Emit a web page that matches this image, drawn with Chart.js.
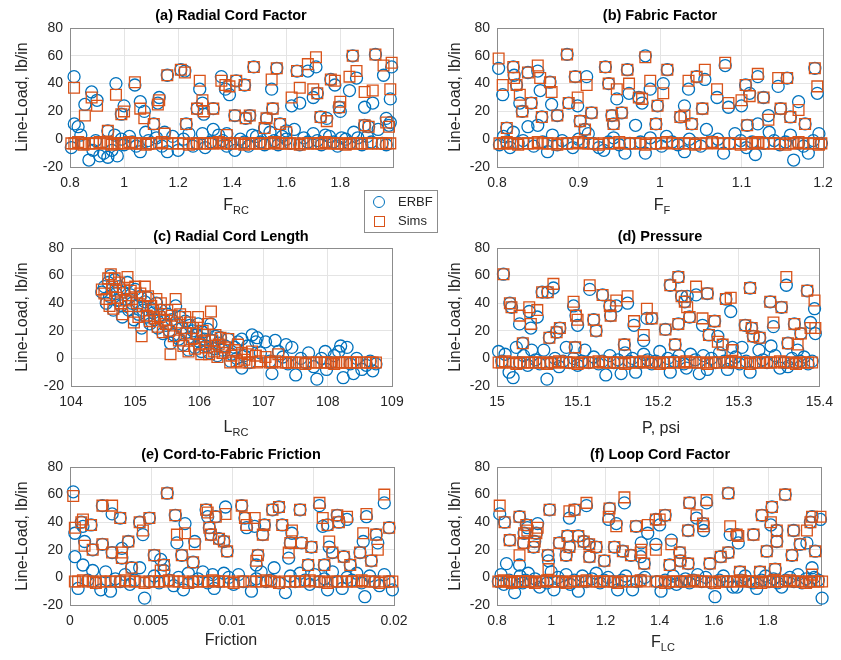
<!DOCTYPE html>
<html><head><meta charset="utf-8">
<script src="https://cdn.jsdelivr.net/npm/chart.js@4"></script>
<style>
body{margin:0;background:#fff;width:841px;height:660px;position:relative;overflow:hidden;font-family:"Liberation Sans",Arial,Helvetica,sans-serif;color:#262626}
canvas{position:absolute}
.t{position:absolute;font-weight:bold;font-size:14.5px;line-height:1;white-space:nowrap;transform:translateX(-50%);color:#000;z-index:2}
.xl{position:absolute;font-size:16px;line-height:1;white-space:nowrap;transform:translateX(-50%);z-index:2}
.xl sub{font-size:11px;vertical-align:-4px;line-height:1}
.yl{position:absolute;font-size:16px;line-height:1;white-space:nowrap;transform:translate(-50%,-50%) rotate(-90deg);z-index:2}
#leg{position:absolute;left:364px;top:190px;width:72px;height:41px;border:1px solid #8c8c8c;background:#fff;z-index:3;font-size:13px}
#leg .row{position:absolute;left:0;height:16px;line-height:16px}
#leg .c{position:absolute;left:8px;top:2px;width:10px;height:10px;border:1.4px solid #0072BD;border-radius:50%}
#leg .s{position:absolute;left:9px;top:3px;width:9px;height:9px;border:1.4px solid #D95319}
#leg .lab{position:absolute;left:33px;top:0}
</style>
</head><body>
<canvas id="ca" width="420" height="215" style="left:0;top:0"></canvas>
<canvas id="cb" width="416" height="215" style="left:425px;top:0"></canvas>
<canvas id="cc" width="420" height="225" style="left:0;top:215px"></canvas>
<canvas id="cd" width="416" height="225" style="left:425px;top:215px"></canvas>
<canvas id="ce" width="420" height="220" style="left:0;top:440px"></canvas>
<canvas id="cf" width="416" height="220" style="left:425px;top:440px"></canvas>

<div class="t" style="left:231px;top:8px">(a) Radial Cord Factor</div>
<div class="t" style="left:660px;top:8px">(b) Fabric Factor</div>
<div class="t" style="left:231px;top:229px">(c) Radial Cord Length</div>
<div class="t" style="left:660px;top:229px">(d) Pressure</div>
<div class="t" style="left:231px;top:447px">(e) Cord-to-Fabric Friction</div>
<div class="t" style="left:660px;top:447px">(f) Loop Cord Factor</div>

<div class="xl" style="left:236px;top:197px">F<sub>RC</sub></div>
<div class="xl" style="left:662px;top:197px">F<sub>F</sub></div>
<div class="xl" style="left:236px;top:419px">L<sub>RC</sub></div>
<div class="xl" style="left:661px;top:420px">P, psi</div>
<div class="xl" style="left:231px;top:632px">Friction</div>
<div class="xl" style="left:663px;top:634px">F<sub>LC</sub></div>

<div class="yl" style="left:22px;top:97px">Line-Load, lb/in</div>
<div class="yl" style="left:455px;top:97px">Line-Load, lb/in</div>
<div class="yl" style="left:22px;top:317px">Line-Load, lb/in</div>
<div class="yl" style="left:455px;top:317px">Line-Load, lb/in</div>
<div class="yl" style="left:22px;top:536px">Line-Load, lb/in</div>
<div class="yl" style="left:455px;top:536px">Line-Load, lb/in</div>

<div id="leg">
  <div class="row" style="top:3px;width:72px"><span class="c"></span><span class="lab">ERBF</span></div>
  <div class="row" style="top:22px;width:72px"><span class="s"></span><span class="lab">Sims</span></div>
</div>

<script>
// ---------- tick labels ----------
const yTicks = [-20, 0, 20, 40, 60, 80];
const xTicksA = [0.8, 1, 1.2, 1.4, 1.6, 1.8];
const xTicksB = [0.8, 0.9, 1, 1.1, 1.2];
const xTicksC = [104, 105, 106, 107, 108, 109];
const xTicksD = [15, 15.1, 15.2, 15.3, 15.4];
const xTicksE = [0, 0.005, 0.01, 0.015, 0.02];
const xTicksF = [0.8, 1, 1.2, 1.4, 1.6, 1.8];

// ---------- (a) Radial Cord Factor ----------
const aX = [0.815,0.880,0.900,0.855,0.970,0.990,1.000,1.040,1.060,1.075,
1.110,1.130,1.125,1.160,1.210,1.225,1.230,1.280,1.290,1.270,
1.295,1.330,1.360,1.375,1.390,1.410,1.415,1.446,1.450,1.465,
1.480,1.546,1.565,1.550,1.527,1.577,1.620,1.650,1.640,1.680,
1.710,1.700,1.715,1.727,1.750,1.765,1.780,1.796,1.800,1.834,
1.860,1.846,1.930,1.960,1.990,1.890,1.920,1.985,1.890,1.905,
1.970,1.980,0.940,1.150,1.380,1.600,1.520,
0.805,0.816,0.830,0.840,0.850,0.870,0.885,0.895,0.910,0.925,
0.940,0.955,0.965,0.975,0.990,1.000,1.020,1.030,1.045,1.060,
1.080,1.090,1.100,1.120,1.140,1.160,1.180,1.200,1.220,1.240,
1.255,1.270,1.290,1.300,1.320,1.330,1.350,1.365,1.380,1.395,
1.410,1.430,1.445,1.460,1.475,1.490,1.505,1.520,1.540,1.555,
1.570,1.585,1.600,1.615,1.630,1.650,1.665,1.680,1.700,1.715,
1.730,1.745,1.760,1.775,1.790,1.805,1.820,1.835,1.850,1.865,
1.880,1.900,1.915,1.940,1.955,1.970,1.985];
const aErbf = [45,34,28,25,40,18,24,39,27,20,
11,30,26,46,50,49,11,36,26,22,
18,22,45,36,32,17,42,39,15,17,
52,36,51,22,15,11,24,26,49,49,
52,30,33,16,15,43,39,23,20,35,
44,60,61,46,52,23,26,29,10,9,
15,10,6,5,4,6,8,
-6,11,9,3,-3,-15,-8,-1,-12,-10,
-13,-8,3,-12,0,-4,2,-2,-5,-9,
5,-1,-3,1,-5,-9,2,-8,0,4,
-5,-3,4,-6,-2,7,3,-1,-5,-3,
-8,0,-2,-5,3,2,-2,-4,5,-1,
-4,2,0,-3,7,-4,1,-2,4,-1,
-4,3,2,-2,-5,1,0,-3,5,1,
-4,2,-2,7,-3,-4,12];
const aSims = [37,30,24,17,32,18,20,41,22,15,
11,28,25,46,50,48,11,42,28,22,
20,22,42,39,38,17,42,39,15,17,
52,43,51,22,15,11,30,37,49,54,
59,36,33,16,13,43,42,23,27,45,
49,60,61,53,55,34,35,36,10,9,
12,9,6,4,3,5,8,
-3,-3,-2,-3,-4,-3,-3,-3,-2,-3,
-3,-4,-3,-3,-3,-3,-2,-3,-3,-3,
-4,-3,-3,-3,-2,-3,-3,-3,-3,-4,
-3,-3,-3,-3,-3,-3,-2,-3,-3,-3,
-3,-3,-4,-3,-3,-3,-3,-3,-3,-2,
-3,-3,-3,-3,-3,-4,-3,-3,-3,-3,
-3,-2,-3,-3,-3,-3,-4,-3,-3,-3,
-3,-3,-3,-3,-3,-3,-3];

// ---------- (b) Fabric Factor ----------
const bX = [0.802,0.807,0.812,0.820,0.821,0.824,0.828,0.838,0.850,0.853,
0.842,0.831,0.855,0.865,0.867,0.874,0.886,0.888,0.899,0.896,
0.910,0.902,0.908,0.916,0.933,0.937,0.947,0.960,0.962,0.941,
0.943,0.953,0.974,0.978,0.988,0.982,0.997,0.995,1.009,1.004,
1.035,1.045,1.055,1.030,1.039,1.025,1.052,1.070,1.080,1.084,
1.100,1.105,1.110,1.120,1.127,1.145,1.156,1.148,1.170,1.160,
1.133,1.107,1.190,1.193,1.178,
0.803,0.808,0.812,0.816,0.820,0.826,0.832,0.838,0.845,0.850,
0.856,0.862,0.868,0.874,0.880,0.886,0.893,0.900,0.906,0.912,
0.918,0.925,0.931,0.937,0.943,0.950,0.957,0.963,0.970,0.976,
0.982,0.988,0.995,1.002,1.008,1.015,1.022,1.030,1.036,1.043,
1.050,1.057,1.064,1.071,1.078,1.085,1.092,1.099,1.106,1.113,
1.117,1.120,1.127,1.134,1.140,1.147,1.154,1.160,1.164,1.170,
1.176,1.182,1.188,1.195,1.198];
const bErbf = [51,32,8,52,46,39,26,48,49,35,
26,20,16,41,25,17,61,26,24,45,
45,13,7,19,52,40,29,50,33,17,
11,19,30,26,36,60,24,11,50,40,
36,45,43,24,11,16,22,30,53,23,
24,39,33,45,30,38,44,22,27,16,
17,10,51,33,11,
-4,2,-2,-6,5,-3,-1,9,-5,10,
-2,-9,3,-4,-1,-3,-6,0,-2,4,
-3,-6,-8,-2,1,-4,-10,-3,10,-2,
-10,1,-3,-5,2,-2,-4,-9,0,-3,
-5,7,-2,0,-10,-3,4,-1,-6,-2,
-11,11,-3,5,-1,-4,-2,3,-15,-3,
-5,-10,-1,4,-3];
const bSims = [58,39,8,52,44,39,32,48,53,44,
26,20,16,41,34,17,61,26,30,45,
39,13,7,19,52,40,36,50,40,17,
11,19,30,29,42,59,24,11,50,33,
42,45,50,17,11,16,22,36,55,26,
28,39,31,47,30,44,44,22,21,16,
14,10,51,38,11,
-3,-3,-2,-3,-3,-4,-3,-3,-3,-2,
-3,-3,-3,-4,-3,-3,-3,-2,-3,-3,
-3,-4,-3,-3,-3,-2,-3,-3,-3,-3,
-4,-3,-3,-3,-2,-3,-3,-3,-3,-4,
-3,-3,-2,-3,-3,-3,-3,-4,-3,-3,
-3,-2,-3,-3,-3,-3,-4,-3,-3,-2,
-3,-3,-3,-4,-3];

// ---------- (c) Radial Cord Length ----------
const cX = [104.48,104.52,104.55,104.58,104.60,104.62,104.64,104.66,104.68,104.70,
104.72,104.75,104.78,104.80,104.82,104.85,104.88,104.90,104.93,104.95,
104.98,105.00,105.03,105.05,105.08,105.10,105.12,105.15,105.18,105.20,
105.23,105.25,105.28,105.30,105.33,105.35,105.38,105.40,105.43,105.45,
105.48,105.50,105.53,105.55,105.57,105.60,105.63,105.65,105.68,105.70,
105.73,105.75,105.78,105.80,105.83,105.85,105.88,105.90,105.93,105.95,
105.98,106.00,106.03,106.05,106.08,106.10,106.13,106.15,106.18,106.20,
106.23,106.25,106.28,106.30,106.33,106.36,106.40,106.45,106.50,106.55,
106.60,106.66,106.70,106.75,106.82,106.88,106.95,107.03,107.10,107.18,
107.23,107.30,107.38,107.44,107.50,107.58,107.65,107.70,107.78,107.83,
107.90,107.96,107.98,108.05,108.10,108.17,108.24,108.30,108.35,108.40,
108.45,108.53,108.60,108.66,108.70,108.75,106.66,106.90,107.13,106.48,
106.58,106.78,107.35,108.20];
const cErbf = [48,52,40,55,45,60,50,35,57,47,
42,52,38,30,48,43,55,35,46,40,
28,50,38,32,45,22,35,41,30,44,
25,36,33,28,40,22,31,35,18,27,
24,32,20,11,28,17,38,25,14,30,
22,10,27,19,6,24,15,20,8,17,
25,12,5,19,14,9,21,4,25,13,
7,16,2,11,15,6,9,14,3,8,
12,14,2,9,17,12,4,12,-2,13,
5,1,-4,8,-12,0,-3,4,-6,-15,
0,5,-8,-3,2,5,-14,8,-4,-11,
0,-8,-5,-2,-9,-4,-7,15,-11,-2,
0,-3,10,9];
const cSims = [50,47,43,58,38,61,52,36,58,49,
44,55,40,32,50,42,59,38,49,43,
26,52,40,30,47,16,38,52,31,45,
27,38,35,29,43,23,30,40,19,28,
25,35,20,3,31,16,43,26,13,32,
22,9,30,18,5,26,14,22,7,18,
30,10,3,20,13,8,25,3,34,13,
5,17,1,10,15,4,8,14,2,6,
10,4,-1,3,5,2,-2,1,-3,-2,
3,-3,-3,-3,-3,-3,-4,-3,-3,-3,
-3,-3,-3,-3,-4,-3,-3,-3,-3,-3,
-3,-3,-3,-3,-3,-3,-3,-3,-3,-3,
-2,-3,-3,-3];

// ---------- (d) Pressure ----------
const dX = [15.008,15.016,15.018,15.028,15.040,15.050,15.042,15.056,15.063,15.070,
15.065,15.074,15.078,15.032,15.095,15.098,15.100,15.097,15.115,15.120,
15.123,15.131,15.140,15.148,15.141,15.162,15.170,15.186,15.192,15.182,
15.158,15.215,15.225,15.229,15.233,15.236,15.239,15.225,15.247,15.261,
15.255,15.270,15.263,15.274,15.284,15.290,15.280,15.292,15.209,15.221,
15.308,15.316,15.318,15.326,15.314,15.339,15.353,15.343,15.359,15.369,
15.377,15.373,15.385,15.394,15.389,15.395,15.361,
15.002,15.006,15.010,15.015,15.020,15.024,15.028,15.033,15.038,15.043,
15.048,15.053,15.058,15.062,15.067,15.072,15.077,15.082,15.086,15.090,
15.095,15.100,15.105,15.109,15.114,15.120,15.126,15.131,15.135,15.140,
15.145,15.150,15.154,15.159,15.164,15.168,15.172,15.177,15.182,15.187,
15.192,15.197,15.202,15.207,15.212,15.215,15.220,15.226,15.232,15.235,
15.240,15.246,15.251,15.256,15.261,15.266,15.271,15.276,15.282,15.286,
15.291,15.296,15.301,15.304,15.309,15.314,15.320,15.325,15.330,15.335,
15.340,15.345,15.351,15.356,15.361,15.366,15.371,15.376,15.381,15.386,
15.391];
const dErbf = [61,40,37,25,34,30,22,48,48,51,
15,19,22,11,38,31,24,8,50,28,
20,46,38,38,31,40,24,29,29,13,
10,53,59,45,41,45,30,25,46,47,
24,27,17,16,43,34,10,8,21,10,
24,22,16,15,51,41,37,23,53,25,
18,6,49,36,26,18,11,
5,-2,3,-10,-14,8,-3,2,-5,6,
-1,-4,6,-15,-3,0,-6,-2,8,-3,
0,-5,-2,6,-3,1,-4,-2,-12,2,
-3,-1,-11,4,-2,0,-10,-3,3,-1,
-4,-2,5,-3,0,-10,-2,2,-4,-7,
3,-1,-11,2,-8,0,-3,4,-2,-8,
-3,1,-4,8,-2,-10,-3,6,-1,-3,
9,2,-7,-3,-6,0,-3,-2,1,-4,
-2];
const dSims = [61,40,37,31,37,35,25,48,48,54,
15,19,22,11,41,31,28,8,53,28,
20,46,38,42,31,45,27,36,29,17,
10,53,59,45,41,37,30,25,52,47,
29,27,17,12,43,44,10,6,21,10,
24,22,16,15,51,41,37,26,59,25,
18,10,49,42,22,22,11,
-3,-3,-2,-3,-3,-4,-3,-3,-3,-3,
-3,-3,-3,-4,-3,-3,-2,-3,-3,-3,
-3,-4,-3,-3,-3,-3,-2,-3,-3,-3,
-3,-3,-3,-4,-3,-3,-3,-3,-2,-3,
-3,-3,-4,-3,-3,-3,-3,-3,-3,-2,
-3,-3,-3,-3,-4,-3,-3,-3,-3,-3,
-2,-3,-3,-3,-3,-4,-3,-3,-3,-3,
-3,-3,-2,-3,-3,-3,-4,-3,-3,-3,
-3];

// ---------- (e) Cord-to-Fabric Friction ----------
const eX = [0.0002,0.0003,0.0007,0.0008,0.0013,0.0020,0.0026,0.0031,0.0009,0.0014,
0.0020,0.0026,0.0032,0.0036,0.0043,0.0049,0.0045,0.0032,0.0038,0.0060,
0.0065,0.0066,0.0071,0.0069,0.0052,0.0056,0.0058,0.0076,0.0077,0.0084,
0.0085,0.0090,0.0086,0.0087,0.0092,0.0095,0.0097,0.0096,0.0106,0.0108,
0.0114,0.0109,0.0120,0.0119,0.0125,0.0129,0.0131,0.0137,0.0142,0.0136,
0.0143,0.0149,0.0135,0.0116,0.0115,0.0154,0.0156,0.0159,0.0165,0.0166,
0.0171,0.0160,0.0162,0.0169,0.0183,0.0181,0.0179,0.0189,0.0190,0.0197,
0.0194,0.0147,0.0157,0.0173,0.0186,
0.0003,0.0005,0.0008,0.0011,0.0014,0.0016,0.0019,0.0022,0.0025,0.0028,
0.0031,0.0034,0.0037,0.0040,0.0043,0.0046,0.0049,0.0052,0.0055,0.0058,
0.0061,0.0064,0.0067,0.0070,0.0073,0.0076,0.0079,0.0082,0.0085,0.0088,
0.0089,0.0092,0.0095,0.0098,0.0101,0.0104,0.0107,0.0112,0.0115,0.0118,
0.0121,0.0124,0.0126,0.0129,0.0133,0.0136,0.0139,0.0142,0.0145,0.0148,
0.0151,0.0154,0.0157,0.0159,0.0162,0.0165,0.0168,0.0171,0.0174,0.0177,
0.0180,0.0182,0.0185,0.0188,0.0191,0.0194,0.0197,0.0199];
const eErbf = [62,32,40,37,38,52,46,43,26,20,
24,18,21,26,40,43,31,14,7,61,
45,25,39,16,16,13,9,11,26,49,
44,44,36,31,28,26,19,51,52,43,
37,36,38,31,49,51,38,32,49,25,
25,22,14,16,9,52,37,38,45,40,
42,22,18,15,44,26,18,31,25,36,
54,9,9,9,12,
15,-8,9,-2,5,-4,-9,4,-10,-1,
-3,2,-5,-2,7,-15,-3,1,-4,5,
-2,-6,0,-9,3,-3,-1,4,-4,2,
-8,-3,3,0,-5,2,-3,-10,-1,4,
-3,-2,7,-4,-11,1,-3,3,-2,-5,
2,-3,-1,-9,4,-3,-8,0,-2,3,
-4,-14,1,-3,-6,2,-3,-9];
const eSims = [59,36,40,42,38,52,52,43,23,20,
24,18,18,26,40,43,34,14,7,61,
45,31,32,16,16,5,9,11,24,49,
47,44,36,31,28,26,19,46,52,43,
43,38,38,31,49,51,38,34,49,25,
25,22,18,16,12,54,43,38,45,40,
44,26,18,15,46,32,18,31,20,36,
60,9,9,9,12,
-3,-3,-2,-3,-3,-4,-3,-3,-3,-3,
-3,-2,-3,-3,-3,-4,-3,-3,-3,-3,
-2,-3,-3,-3,-4,-3,-3,-3,-3,-2,
-3,-3,-3,-3,-4,-3,-3,-3,-3,-3,
-2,-3,-3,-4,-3,-3,-3,-3,-3,-2,
-3,-3,-3,-4,-3,-3,-3,-3,-3,-3,
-2,-3,-3,-3,-4,-3,-3,-3];

// ---------- (f) Loop Cord Factor ----------
const fX = [0.810,0.828,0.847,0.883,0.908,0.900,0.912,0.898,0.945,0.950,
0.883,0.939,0.935,0.994,0.988,0.990,1.030,1.060,1.067,1.067,
1.086,1.130,1.100,1.120,1.140,1.166,1.141,1.055,1.196,1.215,
1.212,1.240,1.270,1.233,1.264,1.294,1.330,1.313,1.356,1.332,
1.386,1.343,1.386,1.420,1.400,1.510,1.573,1.536,1.560,1.562,
1.505,1.443,1.474,1.476,1.505,1.437,1.653,1.660,1.684,1.690,
1.653,1.625,1.746,1.585,1.777,1.814,1.810,1.832,1.795,1.832,
1.863,1.894,1.888,1.918,1.943,1.956,1.962,1.993,1.974,1.962,
1.826,1.770,1.696,
0.805,0.815,0.825,0.835,0.845,0.855,0.865,0.875,0.885,0.895,
0.905,0.915,0.925,0.940,0.957,0.970,0.985,1.000,1.010,1.025,
1.040,1.055,1.070,1.085,1.100,1.115,1.130,1.150,1.166,1.180,
1.195,1.210,1.230,1.245,1.260,1.275,1.300,1.315,1.330,1.345,
1.390,1.405,1.420,1.435,1.450,1.462,1.480,1.495,1.510,1.525,
1.540,1.555,1.570,1.590,1.604,1.620,1.635,1.650,1.670,1.685,
1.700,1.715,1.730,1.745,1.758,1.775,1.790,1.805,1.820,1.835,
1.850,1.865,1.880,1.895,1.910,1.925,1.940,1.955,1.970,1.985,
1.999];
const fErbf = [46,40,27,44,38,32,36,25,32,39,
9,26,22,49,16,12,25,30,22,43,
49,52,30,26,24,22,15,16,12,50,
42,39,54,22,19,16,15,37,32,25,
42,10,24,45,38,54,54,43,39,34,
34,27,18,12,10,9,61,31,31,25,
18,15,31,10,45,51,38,34,19,26,
60,34,16,24,25,40,44,42,19,7,
6,4,4,
-3,2,-5,10,-2,-4,-11,-3,1,-4,
-2,3,-3,-1,-7,-3,-4,4,-9,0,
-3,2,-5,-2,-10,1,-3,-1,3,-4,
-2,0,-3,-9,-2,1,-9,-3,-2,0,
-3,-10,-2,-4,1,-5,-3,-1,-4,-2,
2,-3,0,-4,-14,-2,1,-3,-7,-7,
-2,1,-3,-4,-8,-2,1,-3,-1,-4,
-7,-2,0,-3,2,-4,-1,-3,0,-2,
-15];
const fSims = [52,40,27,44,38,32,34,25,32,36,
16,26,22,49,16,6,25,30,22,48,
49,54,30,26,24,22,15,16,12,50,
44,37,58,22,19,16,18,37,38,20,
42,10,20,45,42,54,56,45,39,37,
34,24,18,12,10,9,61,37,31,30,
18,15,31,10,45,51,40,34,19,26,
60,34,16,24,34,40,44,44,19,2,
6,4,4,
-3,-3,-2,-3,-3,-4,-3,-3,-3,-3,
-3,-3,-3,-4,-3,-3,-2,-3,-3,-3,
-3,-4,-3,-3,-3,-3,-2,-3,-3,-3,
-3,-3,-3,-4,-3,-3,-3,-3,-2,-3,
-3,-3,-4,-3,-3,-3,-3,-3,-3,-2,
-3,-3,-3,-3,-4,-3,-3,-3,-3,-3,
-2,-3,-3,-3,-3,-4,-3,-3,-3,-3,
-3,-3,-2,-3,-3,-3,-4,-3,-3,-3,
-3];

// ---------- drawing ----------
const BLUE = '#0072BD', ORANGE = '#D95319';
const FONT = '"Liberation Sans", Arial, Helvetica, sans-serif';
const fmt = v => String(Math.round(v * 100000) / 100000);

const boxPlugin = {
  id: 'box',
  beforeDatasetsDraw(ch) {
    const a = ch.chartArea, ctx = ch.ctx;
    ctx.save();
    ctx.strokeStyle = '#8c8c8c';
    ctx.lineWidth = 1;
    ctx.strokeRect(Math.round(a.left) + 0.5, Math.round(a.top) + 0.5,
      Math.round(a.right - a.left), Math.round(a.bottom - a.top));
    ctx.restore();
  }
};

function panel(id, canvasRect, area, xMin, xMax, xTicks, xs, es, ss) {
  const [cx, cy, cw, ch] = canvasRect;
  const [L, T, R, B] = area;
  new Chart(document.getElementById(id), {
    type: 'scatter',
    data: {
      datasets: [
        { label: 'ERBF', data: xs.map((x, i) => ({ x, y: es[i] })), order: 1, clip: false,
          pointStyle: 'circle', pointRadius: 6, pointBorderWidth: 1.3,
          pointBorderColor: BLUE, pointBackgroundColor: 'rgba(0,0,0,0)' },
        { label: 'Sims', data: xs.map((x, i) => ({ x, y: ss[i] })), order: 0, clip: false,
          pointStyle: 'rect', pointRadius: 7.6, pointBorderWidth: 1.3,
          pointBorderColor: ORANGE, pointBackgroundColor: 'rgba(0,0,0,0)' }
      ]
    },
    options: {
      responsive: false, animation: false, events: [],
      layout: { padding: { top: T - cy, right: cx + cw - R, left: 0, bottom: 0 } },
      plugins: { legend: { display: false }, tooltip: { enabled: false } },
      scales: {
        x: {
          type: 'linear', min: xMin, max: xMax,
          afterFit: s => { s.height = cy + ch - B; },
          afterBuildTicks: s => { s.ticks = xTicks.map(v => ({ value: v })); },
          ticks: { font: { family: FONT, size: 14 }, color: '#262626', padding: 8,
                   autoSkip: false, maxRotation: 0, callback: v => fmt(v) },
          grid: { color: '#e4e4e4', drawTicks: false },
          border: { display: false }
        },
        y: {
          type: 'linear', min: -20, max: 80,
          afterFit: s => { s.width = L - cx; },
          afterBuildTicks: s => { s.ticks = yTicks.map(v => ({ value: v })); },
          ticks: { font: { family: FONT, size: 14 }, color: '#262626', padding: 7,
                   autoSkip: false, callback: v => fmt(v) },
          grid: { color: '#e4e4e4', drawTicks: false },
          border: { display: false }
        }
      }
    },
    plugins: [boxPlugin]
  });
}

panel('ca', [0, 0, 420, 215],   [70, 28, 393, 167],   0.8, 1.995, xTicksA, aX, aErbf, aSims);
panel('cb', [425, 0, 416, 215], [497, 28, 823, 167],  0.8, 1.2,   xTicksB, bX, bErbf, bSims);
panel('cc', [0, 215, 420, 225], [71, 248, 392, 386],  104, 109,   xTicksC, cX, cErbf, cSims);
panel('cd', [425, 215, 416, 225], [497, 248, 825, 386], 15, 15.4, xTicksD, dX, dErbf, dSims);
panel('ce', [0, 440, 420, 220], [70, 467, 394, 605],  0, 0.02,    xTicksE, eX, eErbf, eSims);
panel('cf', [425, 440, 416, 220], [497, 467, 821, 605], 0.8, 1.995, xTicksF, fX, fErbf, fSims);
</script>
</body></html>
